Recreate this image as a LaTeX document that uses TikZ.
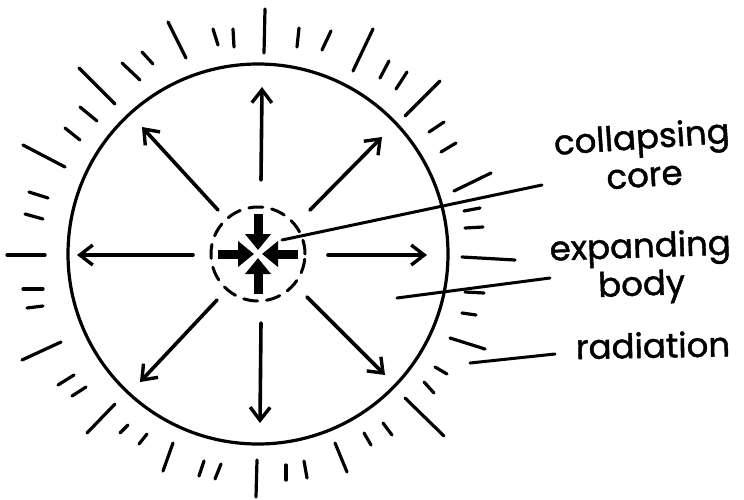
\documentclass[tikz,border=0pt]{standalone}
\usepackage{fontspec}
\setmainfont{Poppins}
\newfontfamily\handfont{Poppins}[FakeBold=1.3]
\usetikzlibrary{arrows.meta,calc}
\begin{document}
\begin{tikzpicture}[x=1pt,y=-1pt,line cap=round,line join=round,
  body/.style={line width=3.2pt},
  corebox/.style={line width=3pt,dash pattern=on 14pt off 9pt},
  outarrow/.style={line width=3.6pt,-{Straight Barb[length=13pt,width=20pt,line width=3.4pt]}},
  inarrow/.style={line width=9pt,line cap=butt,-{Triangle[length=16pt,width=25pt]}},
  tick/.style={line width=3.2pt},
  leader/.style={line width=3pt},
  lab/.style={font=\handfont\fontsize{34}{38}\selectfont,inner sep=0pt,align=center}]
\useasboundingbox (0,0) rectangle (744,499);
\coordinate (c) at (258,254);
\node[circle,draw,body,minimum size=380pt,inner sep=0pt] (star) at (c) {};
\node[circle,draw,corebox,minimum size=94pt,inner sep=0pt] (core) at (c) {};
% inward arrows of the collapsing core
\foreach \n/\a in {n/90,e/0,s/270,w/180}{
  \coordinate (it\n) at ($(c)+(\a:-40)$);
  \coordinate (ih\n) at ($(c)+(\a:-4)$);
  \draw[inarrow] (it\n) -- (ih\n);
}
% outward arrows of the expanding body
\foreach \n/\ax/\ay/\bx/\by in {
  u/261/180/262/87, d/261/323/260/423,
  l/193/255/77/255, r/328/255/427/255,
  ul/218/210/142/127, ur/310/210/382/137,
  dl/217/300/140/382, dr/307/297/385/375}{
  \coordinate (ot\n) at (\ax,\ay);
  \coordinate (oh\n) at (\bx,\by);
  \draw[outarrow] (ot\n) -- (oh\n);
}
% radiation strokes
\foreach \ax/\ay/\bx/\by in {
  265/9/264/53, 233/29/234/47, 213/29/218/45, 168/22/186/58,
  142/52/153/64, 122/63/140/80, 79/68/115/104, 80/107/97/121,
  65/128/80/140, 23/145/65/167, 29/192/48/198, 25/214/43/219,
  7/255/45/255, 23/289/43/289, 27/308/43/306, 22/360/61/342,
  58/385/74/375, 72/396/86/387, 87/433/115/404, 120/433/128/425,
  139/444/147/434, 163/471/173/443, 199/476/204/461, 215/479/221/464,
  257/460/256/497, 286/465/286/480, 304/461/307/478, 335/443/347/472,
  364/433/371/445, 383/423/392/435, 405/398/444/436, 424/382/434/393,
  435/367/447/374, 450/338/485/349, 462/313/476/315, 465/292/484/293,
  462/257/515/260, 465/228/483/227, 464/211/480/208, 454/191/491/173,
  441/152/456/143, 429/132/444/122, 405/116/440/81, 396/89/407/72,
  380/78/389/61, 353/71/373/29, 322/50/331/31, 297/47/299/28}{
  \draw[tick] (\ax,\ay) -- (\bx,\by);
}
% labels
\node[lab,rotate=4] (lcore) at (643,155) {collapsing\\core};
\node[lab,rotate=2] (lbody) at (641,268) {expanding\\body};
\node[lab,rotate=1] (lrad) at (653,345) {radiation};
% leaders
\coordinate (pcore) at (282,240);
\coordinate (pbody) at (397,298);
\coordinate (prad) at (470,363);
\draw[leader] (pcore) -- (542,185) coordinate (qcore);
\draw[leader] (pbody) -- (550,278) coordinate (qbody);
\draw[leader] (prad) -- (555,354) coordinate (qrad);
\end{tikzpicture}
\end{document}
